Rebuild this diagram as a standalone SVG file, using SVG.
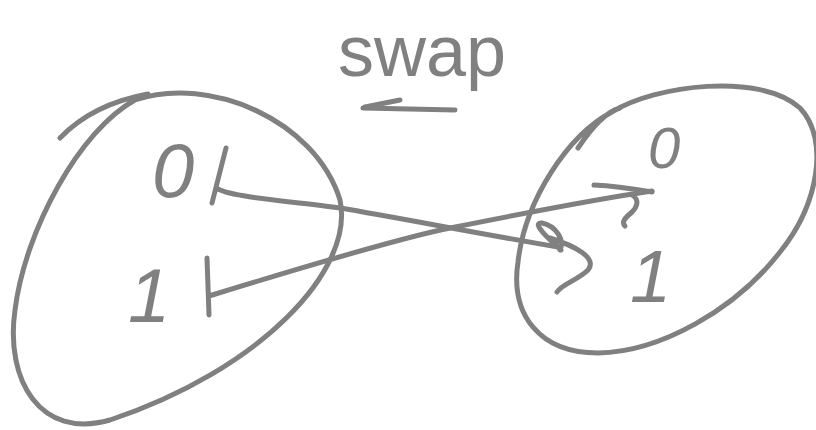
<svg xmlns="http://www.w3.org/2000/svg" width="816" height="430" viewBox="0 0 816 430">
<style>
.s{fill:none;stroke:#808080;stroke-width:5;stroke-linecap:round;stroke-linejoin:round}
.t{fill:#808080;font-family:"Liberation Sans",sans-serif}
.i{font-style:italic}
</style>
<rect width="816" height="430" fill="#ffffff"/>
<g id="title">
<text class="t" x="422" y="76" font-size="72" text-anchor="middle">swap</text>
<path class="s" d="M455,110 L363,108 M400,100 L365,107"/>
</g>
<g id="left-set">
<path class="s" d="M60,138 C85,112 115,100 148,94 M135,100 C210,75 315,120 340,200 C355,270 260,370 110,420 C40,440 5,380 15,310 C25,230 80,130 135,100"/>
<text class="t i" x="152" y="197" font-size="76">0</text>
<text class="t i" x="128" y="322" font-size="76">1</text>
</g>
<g id="right-set">
<path class="s" d="M578,148 C590,130 605,112 620,108 M612,112 C655,85 760,72 800,108 C830,140 818,205 780,252 C735,310 660,352 598,353 C540,353 510,315 518,262 C525,200 568,135 612,112"/>
<text class="t i" x="648" y="168" font-size="58">0</text>
<text class="t i" x="630" y="302" font-size="74">1</text>
</g>
<g id="connectors">
<path class="s" d="M226,148 L212,203 M218,189 C235,198 300,202 340,208 C400,218 470,232 558,247"/>
<path class="s" d="M561,250 C550,240 530,222 542,223 C556,226 565,240 560,250 M550,238 C575,246 598,258 588,270 C578,280 562,284 557,292"/>
<path class="s" d="M207,258 L209,315 M209,296 C300,268 400,238 450,228 C520,214 590,200 652,191"/>
<path class="s" d="M594,185 C615,186 640,190 652,192 M632,195 C640,200 637,207 632,212 C625,218 621,222 625,226"/>
</g>
</svg>
